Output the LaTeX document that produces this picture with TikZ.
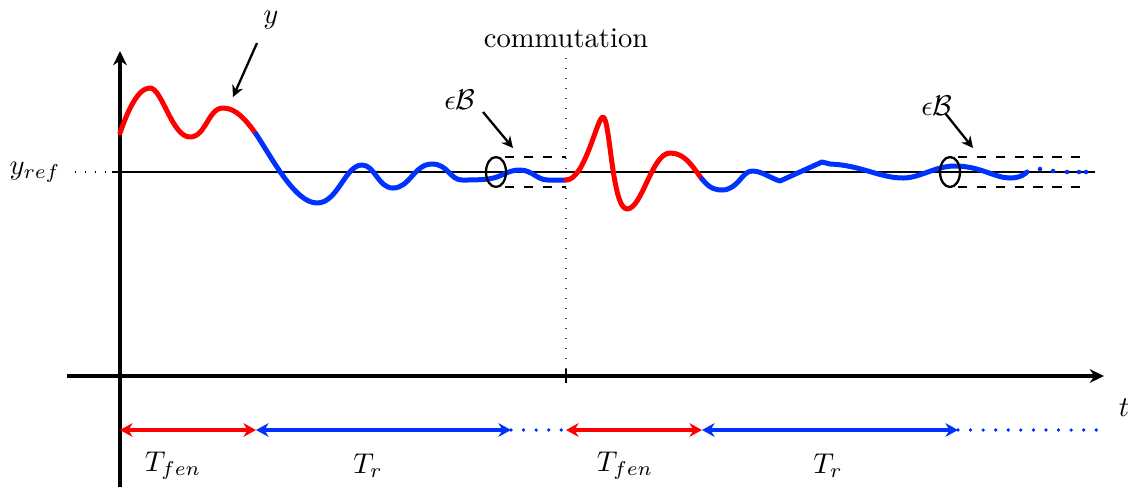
\documentclass[tikz,border=0pt]{standalone}
\usetikzlibrary{arrows.meta}
\definecolor{cblue}{RGB}{0,50,255}
\definecolor{cred}{RGB}{255,0,0}
\begin{document}
\begin{tikzpicture}[x=0.35pt,y=-0.35pt,
  axis/.style={line width=1.1pt,-{Stealth[length=5pt,width=4.8pt]}},
  sig/.style={line width=1.75pt,line cap=round,line join=round},
  span/.style={line width=1.3pt,{Stealth[length=4.4pt,width=4.8pt]}-{Stealth[length=4.4pt,width=4.8pt]}},
  dotspan/.style={line width=1.3pt,dash pattern=on 0pt off 4.4pt,line cap=round},
  lbl/.style={inner sep=0pt},
  pointer/.style={line width=0.8pt,-{Stealth[length=4pt,width=4pt]}},
  band/.style={line width=0.5pt,dash pattern=on 3.3pt off 3.3pt},
  finedots/.style={line width=0.5pt,dash pattern=on 0.5pt off 3pt}]
\useasboundingbox (0,0) rectangle (1129,487);

% axes
\coordinate (ybot) at (120,487);
\coordinate (ytop) at (120,51);
\coordinate (xl) at (67,376);
\coordinate (xr) at (1104,376);
\draw[axis] (ybot) -- (ytop);
\draw[axis] (xl) -- (xr);
\node[lbl] (tlab) at (1124,408) {$t$};

% reference level
\coordinate (rd) at (75,172);
\coordinate (r0) at (112,172);
\coordinate (r1) at (1095,172);
\draw[line width=0.7pt] (r0) -- (r1);
\draw[finedots,line width=0.8pt] (rd) -- (r0);
\node[lbl] (yref) at (35,172) {$y_{ref}$};

% commutation
\node[lbl] (comm) at (566,38) {commutation};
\coordinate (c0) at (566,58);
\coordinate (c1) at (566,376);
\draw[finedots,black!70] (c0) -- (c1);
\coordinate (k0) at (566,369);
\coordinate (k1) at (566,383);
\draw[line width=0.8pt] (k0) -- (k1);

% signal
\draw[sig,cred] (120,133) .. controls (128,110) and (138,88) .. (150,88)
  .. controls (162,88) and (172,137) .. (190,137)
  .. controls (206,137) and (208,108) .. (223,108)
  .. controls (236,108) and (246,120) .. (256,134);
\draw[sig,cblue] (256,134) .. controls (272,158) and (295,203) .. (317,203)
  .. controls (338,203) and (345,165) .. (362,165)
  .. controls (375,165) and (378,188) .. (393,188)
  .. controls (410,188) and (414,164) .. (432,164)
  .. controls (448,164) and (450,180) .. (462,180)
  .. controls (475,180) and (488,180) .. (497,177)
  .. controls (505,174) and (510,170) .. (520,170)
  .. controls (532,170) and (537,180) .. (548,180) -- (566,180);
\draw[sig,cred] (566,180) .. controls (585,180) and (597,117) .. (603,117)
  .. controls (610,117) and (612,209) .. (627,209)
  .. controls (642,209) and (652,153) .. (670,153)
  .. controls (685,153) and (692,166) .. (702,179);
\draw[sig,cblue] (702,179) .. controls (710,189) and (716,190) .. (722,190)
  .. controls (738,190) and (742,171) .. (752,171)
  .. controls (762,171) and (770,178) .. (780,181) -- (822,162) -- (830,164)
  .. controls (860,165) and (880,178) .. (903,178)
  .. controls (920,178) and (935,166) .. (955,166)
  .. controls (980,166) and (995,178) .. (1010,178)
  .. controls (1020,178) and (1025,174) .. (1027,172);
\foreach \p in {(1040,169),(1053,171),(1067,172),(1079,172),(1086,172)}
  \fill[cblue] \p circle (0.8pt);

% epsilon balls
\draw[line width=0.8pt] (496,172) ellipse [x radius=3.5pt, y radius=5.25pt];
\draw[band] (505,157) -- (566,157);
\draw[band] (505,187) -- (566,187);
\draw[line width=0.8pt] (950,172) ellipse [x radius=3.5pt, y radius=5.25pt];
\draw[band] (958,157) -- (1080,157);
\draw[band] (958,187) -- (1080,187);

% pointers
\node[lbl] (ylab) at (271,20) {$y$};
\coordinate (ya) at (257,43);
\coordinate (yb) at (233,97);
\draw[pointer] (ya) -- (yb);
\node[lbl] (eb1) at (460,100) {$\epsilon\mathcal{B}$};
\coordinate (e1a) at (483,112);
\coordinate (e1b) at (513,148);
\draw[pointer] (e1a) -- (e1b);
\node[lbl] (eb2) at (937,106) {$\epsilon\mathcal{B}$};
\coordinate (e2a) at (945,113);
\coordinate (e2b) at (973,148);
\draw[pointer] (e2a) -- (e2b);

% time spans
\coordinate (s0) at (120,430);
\coordinate (s1) at (256,430);
\coordinate (s2) at (511,430);
\coordinate (s3) at (566,430);
\coordinate (s4) at (702,430);
\coordinate (s5) at (958,430);
\coordinate (s6) at (1097,430);
\draw[span,cred] (s0) -- (s1);
\draw[span,cblue] (s1) -- (s2);
\draw[dotspan,cblue] (s2) -- (s3);
\draw[span,cred] (s3) -- (s4);
\draw[span,cblue] (s4) -- (s5);
\draw[dotspan,cblue] (s5) -- (s6);
\node[lbl] (tf1) at (173,466) {$T_{fen}$};
\node[lbl] (tr1) at (368,466) {$T_r$};
\node[lbl] (tf2) at (625,466) {$T_{fen}$};
\node[lbl] (tr2) at (828,466) {$T_r$};
\end{tikzpicture}
\end{document}
